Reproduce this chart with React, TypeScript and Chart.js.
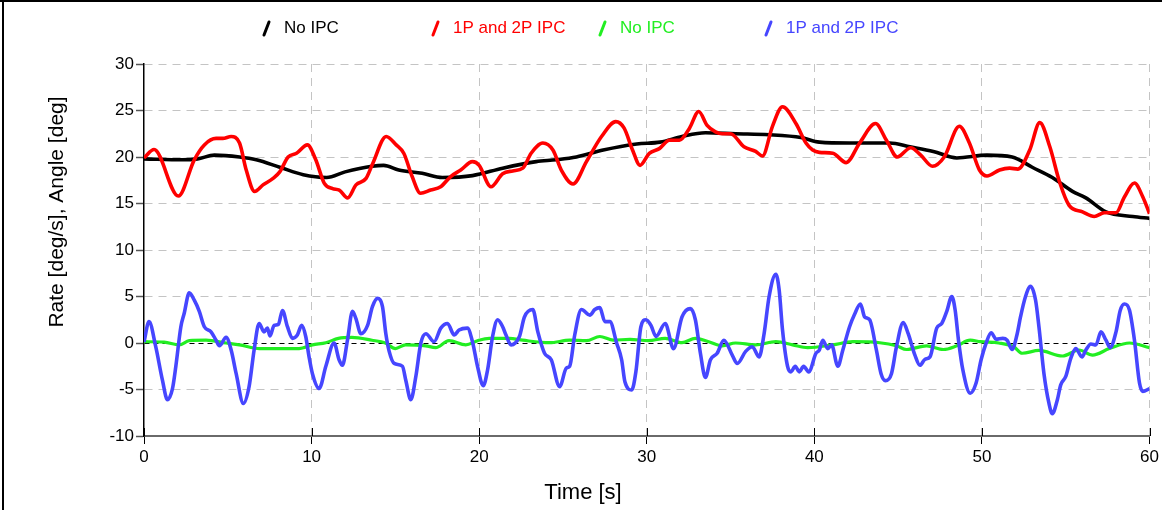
import React, { useEffect, useRef } from "react";
import { Chart, registerables } from "chart.js";

Chart.register(...registerables);

const FONT = '"Liberation Sans", Arial, Helvetica, sans-serif';

const legendLabels = ["No IPC", "1P and 2P IPC", "No IPC", "1P and 2P IPC"];
const seriesColors = ["#000000", "#ff0000", "#22ee22", "#4646ff"];
const xTitle = "Time [s]";
const yTitle = "Rate [deg/s], Angle [deg]";
const xTicks = [0, 10, 20, 30, 40, 50, 60];
const yTicks = [-10, -5, 0, 5, 10, 15, 20, 25, 30];

// Black: No IPC (angle)
const blackT = [0, 2.3, 3.2, 4.2, 5.7, 6.7, 8.1, 9.5, 10.9, 12.0, 13.6, 14.3, 15.2, 16.6, 17.8, 19.6,
  21.4, 23.4, 24.6, 25.8, 27.4, 29.4, 30.8, 32.1, 33.5, 35.3, 37.3, 39.2, 40.3, 42.1,
  44.5, 45.7, 47.1, 48.5, 50.3, 51.8, 53.0, 54.2, 55.4, 56.2, 57.4, 59.0, 60];
const blackY = [19.8, 19.7, 19.8, 20.2, 20.0, 19.7, 18.9, 18.1, 17.8, 18.4, 19.0, 19.1, 18.6, 18.25, 17.8, 18.0,
  18.8, 19.5, 19.7, 20.0, 20.75, 21.4, 21.6, 22.2, 22.6, 22.5, 22.4, 22.1, 21.6, 21.5,
  21.5, 21.1, 20.6, 19.9, 20.2, 20.0, 18.9, 17.8, 16.3, 15.6, 14.1, 13.6, 13.4];

// Red: 1P and 2P IPC (angle)
const redT = [0, 0.6, 2.05, 3.0, 3.6, 4.3, 4.7, 5.2, 5.7, 6.1,
  6.6, 7.1, 7.7, 8.1, 8.6, 9.1, 9.75, 10.25, 10.75, 11.25,
  11.65, 12.15, 12.65, 13.25, 13.65, 14.45, 15.05, 15.5, 16.0, 16.5,
  17.1, 17.7, 18.3, 18.9, 19.6, 20.0, 20.7, 21.4, 22.0, 22.6,
  23.1, 23.8, 24.4, 24.9, 25.6, 26.4, 27.3, 28.15, 28.65, 29.15,
  29.6, 30.15, 30.75, 31.35, 31.95, 32.55, 33.1, 33.6, 34.1, 34.5,
  35.0, 35.8, 36.5, 36.9, 37.5, 38.1, 38.9, 39.5, 39.9, 40.3,
  41.1, 41.9, 42.7, 43.65, 44.3, 44.95, 45.75, 46.35, 47.05, 47.75,
  48.65, 49.25, 49.85, 50.3, 51.05, 51.65, 52.15, 52.85, 53.45, 54.05,
  54.65, 55.2, 56.0, 56.7, 57.3, 58.0, 58.5, 59.1, 59.6, 60];
const redY = [19.9, 20.8, 15.8, 19.7, 21.3, 22.0, 22.0, 22.2, 21.5, 18.6,
  16.3, 17.0, 17.7, 18.4, 20.0, 20.4, 21.3, 19.7, 17.2, 16.6,
  16.45, 15.6, 17.0, 17.7, 19.3, 22.2, 21.3, 20.4, 17.9, 16.1,
  16.45, 16.8, 17.9, 18.6, 19.5, 19.1, 16.8, 18.2, 18.5, 18.8,
  20.4, 21.5, 20.75, 18.6, 17.1, 19.5, 22.2, 23.8, 23.1, 20.75,
  19.1, 20.4, 20.9, 21.8, 21.8, 23.1, 24.9, 23.4, 22.7, 22.5,
  22.5, 21.1, 20.6, 20.1, 23.3, 25.4, 23.6, 21.5, 20.75, 20.5,
  20.4, 19.4, 21.5, 23.6, 21.8, 20.0, 21.0, 20.2, 19.0, 20.0,
  23.3, 21.5, 18.6, 17.96, 18.6, 18.8, 18.7, 20.75, 23.7, 21.1,
  17.2, 14.8, 14.1, 13.6, 14.0, 14.0, 15.7, 17.2, 15.7, 13.9];

// Green: No IPC (rate)
const greenT = [0, 1.2, 2.1, 2.7, 3.7, 4.9, 5.7, 6.9, 8.1, 9.25,
  10.05, 10.85, 11.6, 12.4, 13.6, 14.4, 15.0, 15.6, 16.8, 17.4,
  18.2, 19.2, 19.9, 20.6, 21.8, 22.6, 24.2, 25.4, 26.4, 27.2,
  28.0, 29.0, 30.1, 31.1, 32.1, 32.9, 33.7, 34.5, 35.3, 36.5,
  37.7, 38.7, 39.6, 41.1, 42.3, 43.9, 44.9, 45.5, 46.7, 47.7,
  48.5, 49.3, 49.9, 51.0, 51.9, 52.4, 53.4, 54.8, 55.8, 56.6,
  57.6, 58.8, 60];
const greenY = [0.14, 0.1, -0.2, 0.25, 0.3, 0.0, -0.2, -0.6, -0.6, -0.6,
  -0.2, 0.03, 0.5, 0.6, 0.3, 0.0, -0.6, -0.2, -0.3, -0.5,
  0.25, -0.2, 0.25, 0.5, 0.5, 0.3, 0.03, 0.3, 0.25, 0.7,
  0.3, 0.4, 0.25, 0.5, 0.03, 0.5, 0.14, -0.3, 0.0, -0.2,
  0.14, -0.2, -0.5, -0.2, 0.14, 0.03, -0.3, -0.7, -0.3, -0.7,
  -0.3, 0.3, 0.14, 0.0, -0.4, -1.1, -0.8, -1.4, -0.75, -1.3,
  -0.6, 0.0, -0.5];

// Blue: 1P and 2P IPC (rate)
const blueT = [0, 0.3, 0.7, 1.1, 1.4, 1.7, 1.9, 2.2, 2.4, 2.7,
  3.0, 3.3, 3.6, 4.0, 4.3, 4.5, 4.9, 5.2, 5.5, 5.93,
  6.27, 6.57, 6.87, 7.16, 7.36, 7.52, 7.76, 8.02, 8.26, 8.56,
  8.86, 9.15, 9.41, 9.65, 9.85, 10.05, 10.45, 10.85, 11.34, 11.64,
  11.84, 12.14, 12.44, 12.64, 12.94, 13.34, 13.63, 13.93, 14.23, 14.43,
  14.63, 14.93, 15.42, 15.62, 15.92, 16.22, 16.52, 16.82, 17.31, 17.71,
  18.11, 18.51, 18.8, 19.3, 19.6, 19.9, 20.24, 20.5, 20.8, 21.1,
  21.4, 21.6, 21.9, 22.4, 22.7, 23.2, 23.5, 23.9, 24.3, 24.8,
  25.2, 25.4, 25.7, 26.1, 26.6, 26.9, 27.2, 27.5, 27.8, 28.2,
  28.5, 28.7, 29.1, 29.35, 29.65, 29.95, 30.25, 30.55, 31.1, 31.6,
  32.1, 32.6, 32.9, 33.2, 33.5, 33.8, 34.2, 34.6, 35.1, 35.4,
  35.9, 36.3, 36.7, 37.0, 37.3, 37.7, 37.9, 38.1, 38.4, 38.6,
  38.86, 39.1, 39.36, 39.66, 40.1, 40.3, 40.5, 40.8, 41.03, 41.4,
  41.7, 42.1, 42.4, 42.75, 43.0, 43.3, 43.7, 43.98, 44.24, 44.6,
  44.9, 45.3, 45.6, 46.0, 46.3, 46.6, 46.9, 47.3, 47.6, 47.9,
  48.2, 48.4, 48.6, 48.86, 49.3, 49.65, 49.95, 50.25, 50.55, 50.85,
  51.24, 51.5, 51.8, 52.1, 52.3, 52.6, 52.9, 53.2, 53.4, 53.7,
  54.0, 54.2, 54.5, 54.7, 55.0, 55.3, 55.6, 55.97, 56.2, 56.5,
  56.8, 57.1, 57.4, 57.65, 58.0, 58.25, 58.5, 58.8, 59.1, 59.4,
  59.6, 60];
const blueY = [0.1, 2.3, -0.4, -4.0, -6.1, -4.9, -2.5, 1.75, 3.2, 5.4,
  4.6, 3.4, 1.75, 1.2, 0.3, -0.3, 0.6, -0.75, -3.3, -6.5,
  -4.7, -0.75, 2.1, 1.2, 1.6, 0.75, 1.9, 2.0, 3.5, 1.75,
  0.5, 0.86, 1.9, 0.7, -1.5, -3.3, -4.9, -2.5, 0.0, -1.8,
  -2.4, 0.3, 3.4, 2.65, 1.0, 1.9, 3.9, 4.8, 3.9, 1.0,
  -0.9, -2.2, -2.5, -4.0, -6.1, -3.6, 0.0, 1.0, 0.14, 1.6,
  2.1, 0.86, 1.4, 1.6, 0.14, -2.5, -4.6, -2.9, 0.7, 2.5,
  1.75, 0.86, -0.2, 0.7, 2.8, 3.6, 1.2, -1.1, -1.8, -4.7,
  -2.7, -2.5, 0.86, 3.6, 3.0, 3.6, 3.8, 2.3, 2.3, 0.0,
  -1.8, -4.2, -5.05, -3.1, 1.75, 2.5, 1.9, 0.7, 2.1, -0.6,
  2.8, 3.7, 2.5, -1.1, -3.7, -1.8, -1.1, 0.3, -1.3, -2.2,
  -0.9, -0.4, -1.5, 1.0, 5.0, 7.4, 5.7, 1.4, -2.5, -3.1,
  -2.5, -3.1, -2.5, -3.1, -1.1, -0.75, 0.3, -0.6, -0.2, -2.5,
  -0.75, 1.75, 3.1, 4.2, 2.8, 2.5, -0.75, -3.3, -4.05, -3.3,
  -0.4, 2.2, 1.0, -1.3, -2.4, -1.75, -1.5, 1.6, 2.1, 3.4,
  5.0, 3.55, 0.3, -2.9, -5.4, -4.3, -1.8, 0.0, 1.1, 0.4,
  0.5, 0.3, -0.7, 0.97, 2.8, 5.0, 6.1, 4.6, 1.75, -3.3,
  -6.5, -7.6, -6.1, -4.5, -3.6, -1.65, -0.6, -1.5, -0.75, -0.1,
  -0.2, 1.2, 0.3, -0.5, 1.2, 3.5, 4.2, 3.55, 0.3, -4.3,
  -5.2, -4.9];

const toPoints = (ts: number[], ys: number[]) => ts.map((t, i) => ({ x: t, y: ys[i] }));

const overlayPlugin = {
  id: "overlay",
  afterDraw(chart: any) {
    const { ctx } = chart;
    const x = chart.scales.x;
    const y = chart.scales.y;
    ctx.save();
    // outer frame (top and left)
    ctx.fillStyle = "#000";
    ctx.fillRect(0, 0, chart.width, 2);
    ctx.fillRect(2, 0, 2, chart.height);
    // x tick marks reaching into the plot
    ctx.strokeStyle = "#000";
    ctx.lineWidth = 1;
    for (const v of xTicks) {
      const px = Math.round(x.getPixelForValue(v)) + 0.5;
      ctx.beginPath();
      ctx.moveTo(px, y.bottom);
      ctx.lineTo(px, y.bottom - 8);
      ctx.stroke();
    }
    // legend
    const legendX = [264, 433, 600, 766];
    ctx.font = `17px ${FONT}`;
    ctx.textBaseline = "middle";
    ctx.textAlign = "left";
    chart.data.datasets.forEach((ds: any, i: number) => {
      const lx = legendX[i];
      ctx.strokeStyle = ds.borderColor;
      ctx.lineWidth = 3;
      ctx.lineCap = "round";
      ctx.beginPath();
      ctx.moveTo(lx, 35);
      ctx.lineTo(lx + 5, 22);
      ctx.stroke();
      ctx.fillStyle = ds.borderColor;
      ctx.fillText(ds.label, lx + 20, 28);
    });
    // axis titles
    ctx.fillStyle = "#000";
    ctx.textAlign = "center";
    ctx.textBaseline = "middle";
    ctx.font = `22px ${FONT}`;
    ctx.fillText(xTitle, 583, 493);
    ctx.font = `21px ${FONT}`;
    ctx.translate(57, 212);
    ctx.rotate(-Math.PI / 2);
    ctx.fillText(yTitle, 0, 0);
    ctx.restore();
  },
};

export default function App() {
  const canvasRef = useRef<HTMLCanvasElement | null>(null);

  useEffect(() => {
    document.body.style.margin = "0";
    const canvas = canvasRef.current;
    if (!canvas) return;
    const series = [
      toPoints(blackT, blackY),
      toPoints(redT, redY),
      toPoints(greenT, greenY),
      toPoints(blueT, blueY),
    ];
    const drawOrder = [4, 3, 2, 1];
    const chart = new Chart(canvas, {
      type: "line",
      data: {
        datasets: series.map((pts, i) => ({
          label: legendLabels[i],
          data: pts,
          borderColor: seriesColors[i],
          backgroundColor: seriesColors[i],
          borderWidth: i === 2 ? 3.2 : 3.6,
          pointRadius: 0,
          fill: false,
          cubicInterpolationMode: "monotone" as const,
          order: drawOrder[i],
        })),
      },
      plugins: [overlayPlugin],
      options: {
        responsive: false,
        animation: false,
        devicePixelRatio: 1,
        layout: { padding: { top: 64, right: 12, bottom: 0, left: 0 } },
        plugins: {
          legend: { display: false },
          tooltip: { enabled: false },
          title: { display: false },
        },
        scales: {
          x: {
            type: "linear",
            min: 0,
            max: 60,
            afterBuildTicks: (s: any) => {
              s.ticks = xTicks.map((v) => ({ value: v }));
            },
            afterFit: (s: any) => {
              s.height = 74;
            },
            ticks: {
              color: "#000",
              font: { family: FONT, size: 17 },
              padding: 3,
              maxRotation: 0,
            },
            grid: {
              color: (c: any) => (c.tick && c.tick.value === 0 ? "rgba(0,0,0,0)" : "#c4c4c4"),
              lineWidth: 1,
              drawTicks: true,
              tickLength: 8,
              tickColor: "#000",
              tickWidth: 1,
            },
            border: { display: true, color: "#6a6a6a", width: 2, dash: [8, 6] },
          },
          y: {
            type: "linear",
            min: -10,
            max: 30,
            afterBuildTicks: (s: any) => {
              s.ticks = yTicks.map((v) => ({ value: v }));
            },
            afterFit: (s: any) => {
              s.width = 144;
            },
            ticks: {
              color: "#000",
              font: { family: FONT, size: 17 },
              padding: 2,
            },
            grid: {
              color: (c: any) => {
                const v = c.tick ? c.tick.value : null;
                if (v === -10) return "rgba(0,0,0,0)";
                if (v === 0) return "#000";
                return "#c4c4c4";
              },
              lineWidth: 1,
              drawTicks: true,
              tickLength: 8,
              tickColor: "#555",
              tickWidth: 1.5,
            },
            border: {
              display: true,
              color: "#000",
              width: 1.5,
              dash: (c: any) => (c.tick && c.tick.value === 0 ? [5, 4] : [8, 6]),
            },
          },
        },
      },
    } as any);
    return () => chart.destroy();
  }, []);

  return (
    <div style={{ position: "fixed", left: 0, top: 0, width: 1162, height: 510, background: "#fff" }}>
      <canvas ref={canvasRef} width={1162} height={510} style={{ display: "block" }} />
    </div>
  );
}
